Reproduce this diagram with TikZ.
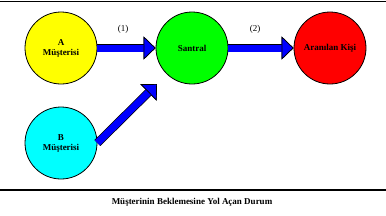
\documentclass[tikz,border=0pt]{standalone}
\usepackage{fontspec}
\setmainfont{Liberation Serif}
\usetikzlibrary{arrows.meta}
\definecolor{sari}{RGB}{255,255,0}
\definecolor{yesil}{RGB}{0,255,0}
\definecolor{kirmizi}{RGB}{255,0,0}
\definecolor{turkuaz}{RGB}{0,255,255}
\definecolor{mavi}{RGB}{0,0,255}

\begin{document}
\begin{tikzpicture}[x=1pt,y=-1pt,
  durak/.style={circle,draw=black,line width=0.8pt,minimum size=72pt,inner sep=0pt,
    align=center,font=\fontsize{9}{10}\selectfont\bfseries},
  kalinok/.style={draw=mavi,line width=7pt,
    -{Triangle[length=12pt,width=23pt,fill=mavi,color=black,line width=0.7pt]},
    preaction={draw=black,line width=8.4pt}}]
  \useasboundingbox (0,0) rectangle (386,215);
  \draw[line width=1.2pt] (0,1.5) -- (386,1.5);
  \draw[line width=1.2pt] (0,190) -- (386,190);

  \node[durak,fill=sari] (amus) at (61,48) {A\\Müşterisi};
  \node[durak,fill=yesil] (santral) at (192,48) {Santral};
  \node[durak,fill=kirmizi] (aranan) at (330,48) {Aranılan Kişi};
  \node[durak,fill=turkuaz] (bmus) at (61,143) {B\\Müşterisi};
  \coordinate (buc) at (157,84);

  \draw[kalinok] (amus.east) -- (santral.west);
  \draw[kalinok] (santral.east) -- (aranan.west);
  \draw[kalinok] (bmus.east) -- (buc);

  \node[font=\fontsize{9}{10}\selectfont] (bir) at (123,29) {(1)};
  \node[font=\fontsize{9}{10}\selectfont] (iki) at (255,29) {(2)};
  \node[font=\fontsize{9}{10}\selectfont\bfseries] (baslik) at (192,202) {Müşterinin Beklemesine Yol Açan Durum};
\end{tikzpicture}
\end{document}
